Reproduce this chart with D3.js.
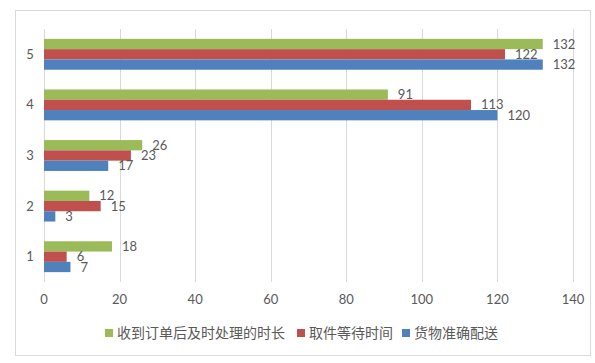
<!DOCTYPE html>
<html>
<head>
<meta charset="utf-8">
<script src="https://cdn.jsdelivr.net/npm/d3@7"></script>
<style>
  body { margin: 0; background: #fff; }
  svg text { font-family: Lato, "Noto Sans CJK SC", sans-serif; fill: #595959; }
</style>
</head>
<body>
<svg width="595" height="363"></svg>
<script>
// chart data
const categories = ["5", "4", "3", "2", "1"];
const seriesNames = ["收到订单后及时处理的时长", "取件等待时间", "货物准确配送"];
const seriesColors = ["#9BBB59", "#C0504D", "#4F81BD"];
// values listed for categories 1..5
const processTime = [18, 12, 26, 91, 132];
const pickupWait = [6, 15, 23, 113, 122];
const accurateDelivery = [7, 3, 17, 120, 132];
const xTicks = [0, 20, 40, 60, 80, 100, 120, 140];

const seriesValues = [processTime, pickupWait, accurateDelivery];

const svg = d3.select("svg");

// outer chart border
svg.append("rect")
    .attr("x", 15.5).attr("y", 10.5)
    .attr("width", 575).attr("height", 345)
    .attr("fill", "#fff")
    .attr("stroke", "#d9d9d9");

const x = d3.scaleLinear().domain([0, 140]).range([44, 573]);
const y = d3.scaleBand().domain(categories).range([29, 282])
    .paddingInner(0.39).paddingOuter(0.195);
const ySeries = d3.scaleBand().domain(d3.range(3)).range([0, y.bandwidth()]);

// gridlines
svg.append("g")
    .selectAll("line")
    .data(xTicks)
    .join("line")
    .attr("x1", d => Math.round(x(d)) + 0.5)
    .attr("x2", d => Math.round(x(d)) + 0.5)
    .attr("y1", 29).attr("y2", 282)
    .attr("stroke", "#d9d9d9");

// x tick labels
svg.append("g")
    .selectAll("text")
    .data(xTicks)
    .join("text")
    .attr("x", d => x(d))
    .attr("y", 299)
    .attr("dy", "0.35em")
    .attr("text-anchor", "middle")
    .attr("font-size", 13)
    .text(d => d);

// category labels
svg.append("g")
    .selectAll("text")
    .data(categories)
    .join("text")
    .attr("x", 30)
    .attr("y", d => y(d) + y.bandwidth() / 2)
    .attr("dy", "0.35em")
    .attr("text-anchor", "middle")
    .attr("font-size", 13)
    .text(d => d);

// bars and labels
seriesValues.forEach((vals, si) => {
    const rows = categories.map(c => ({ cat: c, v: vals[+c - 1] }));
    const g = svg.append("g");
    g.selectAll("rect")
        .data(rows)
        .join("rect")
        .attr("x", x(0))
        .attr("y", d => y(d.cat) + ySeries(si))
        .attr("width", d => x(d.v) - x(0))
        .attr("height", ySeries.bandwidth())
        .attr("fill", seriesColors[si]);
    g.selectAll("text")
        .data(rows)
        .join("text")
        .attr("x", d => x(d.v) + 10)
        .attr("y", d => y(d.cat) + ySeries(si) + ySeries.bandwidth() / 2)
        .attr("dy", "0.35em")
        .attr("font-size", 13)
        .text(d => d.v);
});

// legend
const legendX = [105, 297, 402];
const legend = svg.append("g")
    .selectAll("g")
    .data(seriesNames)
    .join("g")
    .attr("transform", (d, i) => `translate(${legendX[i]},333)`);
legend.append("rect")
    .attr("x", 0).attr("y", -4)
    .attr("width", 8).attr("height", 8)
    .attr("fill", (d, i) => seriesColors[i]);
legend.append("text")
    .attr("x", 12)
    .attr("dy", "0.35em")
    .attr("font-size", 14)
    .attr("font-family", "Noto Sans CJK SC")
    .text(d => d);
</script>
</body>
</html>
